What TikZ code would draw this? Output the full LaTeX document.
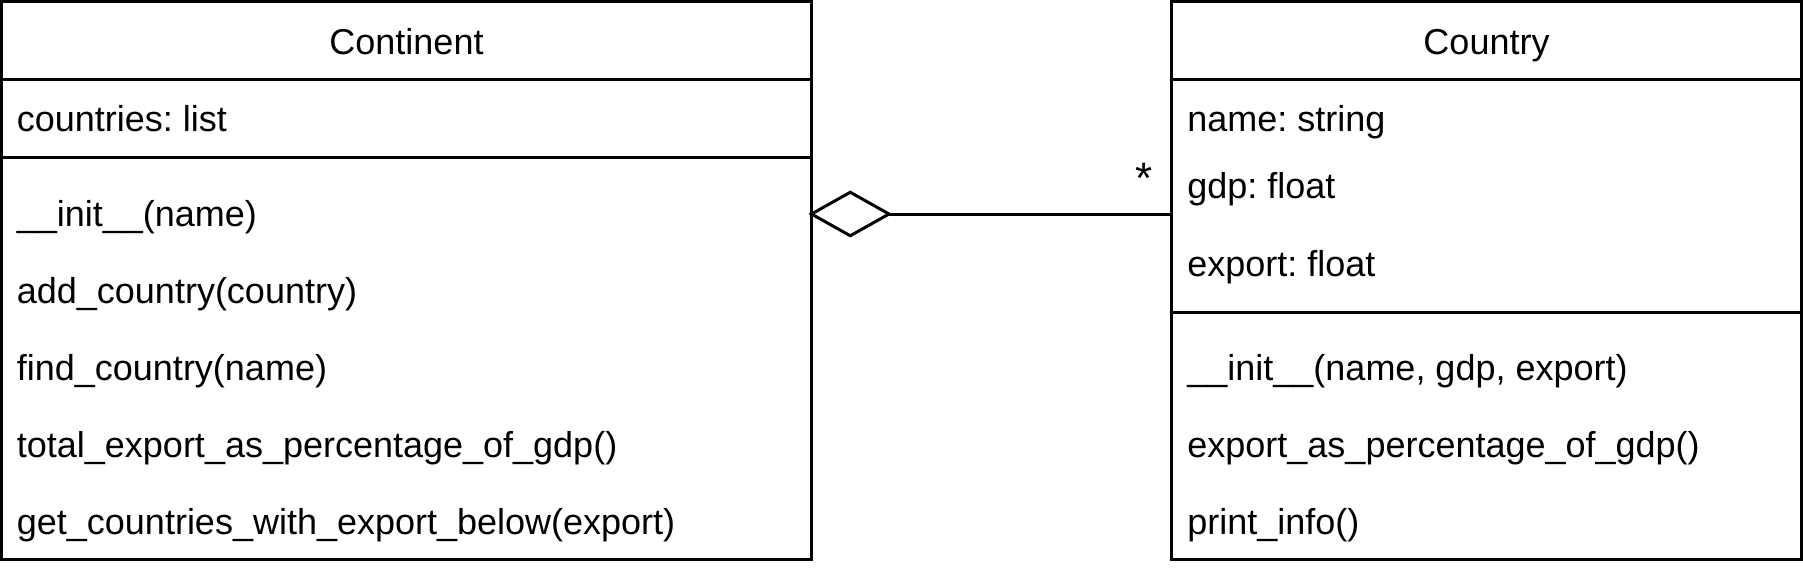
\documentclass[tikz,border=0pt]{standalone}
\usepackage{fontspec}
\setmainfont{Liberation Sans}
\frenchspacing
\usetikzlibrary{shapes.geometric}

\tikzset{
    umlbox/.style={draw, rectangle, line width=1.5pt, inner sep=0pt, outer sep=0pt},
    umlhead/.style={umlbox, font=\fontsize{18pt}{21.6pt}\selectfont, text height=14pt, text depth=0pt},
    member/.style={anchor=base west, inner sep=0pt, font=\fontsize{18pt}{21.6pt}\selectfont},
}

\begin{document}
\begin{tikzpicture}[x=0.5pt, y=-0.5pt]
    \useasboundingbox (0,0) rectangle (1803,570);
    \begin{scope}
        \node[umlhead, minimum width=405pt, minimum height=39pt] (contHead) at (406.5,40.5) {Continent};
        \node[umlbox, minimum width=405pt, minimum height=38.75pt] (contAttr) at (406.5,118.25) {};
        \node[umlbox, minimum width=405pt, minimum height=201.25pt] (contOps) at (406.5,358.25) {};
        \node[member] (contA1) at (16.5,131) {countries: list};
        \foreach \y/\txt [count=\i] in {226/{\_\_init\_\_(name)}, 303/{add\_country(country)}, 380/{find\_country(name)}, 457/{total\_export\_as\_percentage\_of\_gdp()}, 534/{get\_countries\_with\_export\_below(export)}}
            \node[member] (contM\i) at (16.5,\y) {\txt};
    \end{scope}

    \begin{scope}
        \node[umlhead, minimum width=315pt, minimum height=39pt] (cntHead) at (1486.5,40.5) {Country};
        \node[umlbox, minimum width=315pt, minimum height=116.5pt] (cntAttr) at (1486.5,196) {};
        \node[umlbox, minimum width=315pt, minimum height=123.5pt] (cntOps) at (1486.5,436) {};
        \foreach \y/\txt [count=\i] in {131/{name: string}, 198/{gdp: float}, 276/{export: float}}
            \node[member] (cntA\i) at (1187,\y) {\txt};
        \foreach \y/\txt [count=\i] in {380/{\_\_init\_\_(name, gdp, export)}, 457/{export\_as\_percentage\_of\_gdp()}, 534/{print\_info()}}
            \node[member] (cntM\i) at (1187,\y) {\txt};
    \end{scope}

    % aggregation
    \node[draw, diamond, line width=1.5pt, inner sep=0pt, outer sep=0pt, minimum width=38.75pt, minimum height=21.75pt, anchor=west] (agg) at (811.5,214) {};
    \draw[line width=1.5pt] (agg.east) -- (agg.east -| cntAttr.west);
    \node[inner sep=0pt, anchor=base, font=\fontsize{22pt}{26pt}\selectfont] (mult) at (1144.5,193) {*};
\end{tikzpicture}
\end{document}
